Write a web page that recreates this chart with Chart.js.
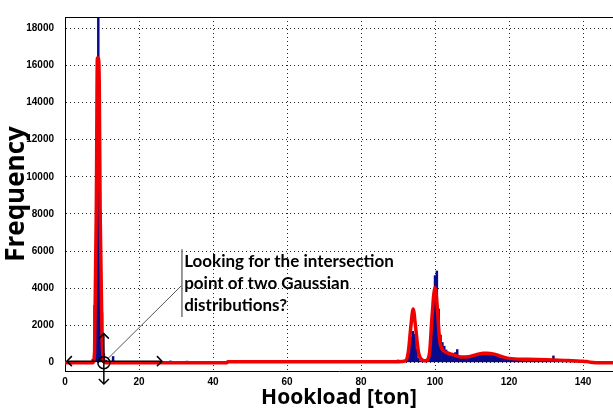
<!DOCTYPE html>
<html>
<head>
<meta charset="utf-8">
<script src="https://cdn.jsdelivr.net/npm/chart.js@4"></script>
<style>
  body { margin: 0; background: #fff; }
</style>
</head>
<body>
<canvas id="myChart" width="613" height="412"></canvas>
<script>
// histogram bins (bin centre in ton) and counts
const histX = [
  7.5, 8, 8.5, 9, 9.5, 10, 10.5, 11, 11.5, 12, 12.5, 13, 13.5, 14, 15, 16, 17, 18,
  28.5, 31, 33, 41, 70,
  88, 88.5, 89, 89.5, 90, 90.5, 91, 91.5, 92, 92.5, 93, 93.5, 94, 94.5, 95, 95.5,
  96, 96.5, 97, 97.5, 98, 98.5, 99, 99.5, 100, 100.5, 101, 101.5, 102, 102.5, 103, 103.5,
  104, 104.5, 105, 105.5, 106, 106.5, 107, 107.5, 108, 108.5, 109, 109.5, 110, 110.5,
  111, 111.5, 112, 112.5, 113, 113.5, 114, 114.5, 115, 115.5, 116, 116.5, 117, 117.5,
  118, 118.5, 119, 119.5, 120, 120.5, 121, 121.5, 122, 122.5, 123, 123.5, 124, 124.5,
  125, 125.5, 126, 126.5, 127, 127.5, 128, 128.5, 129, 129.5, 130, 130.5, 131, 131.5,
  132, 132.5, 133, 133.5, 134, 134.5, 135, 135.5, 136, 136.5, 137, 137.5, 138, 138.5,
  139, 139.5, 140
];
const histY = [
  200, 3100, 9500, 18600, 8200, 2700, 500, 150, 90, 70, 60, 350, 80, 60, 50, 40, 30, 30,
  110, 60, 100, 40, 80,
  40, 50, 60, 120, 160, 110, 70, 60, 90, 220, 650, 1400, 1700, 1550, 750, 260,
  110, 70, 90, 120, 220, 650, 1900, 3600, 4700, 4950, 2900, 1500, 1100, 900, 700, 560,
  480, 420, 500, 560, 720, 380, 320, 280, 330, 300, 340, 330, 390, 360,
  440, 420, 480, 440, 470, 500, 460, 490, 430, 460, 400, 360, 350, 290,
  260, 250, 210, 190, 190, 170, 180, 150, 170, 140, 160, 150, 160, 130,
  150, 140, 150, 120, 140, 130, 140, 120, 130, 110, 120, 110, 130, 150,
  380, 160, 110, 100, 90, 80, 80, 70, 70, 60, 60, 50, 40, 30,
  30, 20, 20
];

// fitted mixture curve
const fitX = [0, 7.5, 8, 8.5, 8.75, 9, 9.25, 9.5, 10, 10.5, 11, 43.8, 44, 90, 92, 92.8, 93.5,
  94.1, 94.7, 95.5, 96.5, 97.5, 98.5, 99.2, 100, 100.6, 101.2, 102, 103, 105, 107, 109,
  111, 113, 114, 116, 118, 120, 125, 132, 136, 140, 141, 142, 143.5, 148.5];
const fitY = [0, 0, 600, 9300, 16400, 16400, 15100, 8000, 1500, 100, 0, 0, 50, 50, 100, 600, 2000,
  2880, 2000, 600, 150, 100, 500, 2500, 4050, 3000, 1300, 700, 550, 420, 300, 320,
  420, 500, 510, 460, 330, 230, 180, 140, 120, 70, 60, 20, 0, 0];

const xTicks = [0, 20, 40, 60, 80, 100, 120, 140];
const yTicks = [0, 2000, 4000, 6000, 8000, 10000, 12000, 14000, 16000, 18000];

const noteLines = ["Looking for the intersection", "point of two Gaussian", "distributions?"];

const tickFont = { family: "'Liberation Sans Narrow', 'Liberation Sans', Arial", size: 10, weight: "bold" };

function arrowHead(ctx, x, y, dx, dy) {
  const s = 5;
  ctx.beginPath();
  ctx.moveTo(x - dx * s - dy * s, y - dy * s - dx * s);
  ctx.lineTo(x, y);
  ctx.lineTo(x - dx * s + dy * s, y - dy * s + dx * s);
  ctx.stroke();
}

const notePlugin = {
  id: "note",
  afterDraw(chart) {
    const { ctx, chartArea } = chart;
    const xs = chart.scales.x, ys = chart.scales.y;
    ctx.save();
    // top frame
    ctx.strokeStyle = "#000";
    ctx.lineWidth = 1;
    ctx.beginPath();
    ctx.moveTo(chartArea.left, chartArea.top + 0.5);
    ctx.lineTo(chartArea.right, chartArea.top + 0.5);
    ctx.stroke();

    const cx = xs.getPixelForValue(10.5), cy = ys.getPixelForValue(0);
    // leader line
    const tx = xs.getPixelForValue(31.6), ty = ys.getPixelForValue(4170);
    ctx.strokeStyle = "#555";
    ctx.lineWidth = 1;
    ctx.beginPath();
    ctx.moveTo(cx + 4, cy - 4);
    ctx.lineTo(tx, ty);
    ctx.stroke();
    // bar beside the note
    ctx.strokeStyle = "#777";
    ctx.lineWidth = 1.5;
    ctx.beginPath();
    ctx.moveTo(tx, ys.getPixelForValue(6100));
    ctx.lineTo(tx, ys.getPixelForValue(2450));
    ctx.stroke();

    // circle + arrows
    ctx.strokeStyle = "#000";
    ctx.lineWidth = 1.5;
    ctx.beginPath();
    ctx.arc(cx, cy, 6, 0, Math.PI * 2);
    ctx.stroke();
    const hy = ys.getPixelForValue(80);
    const hx0 = xs.getPixelForValue(0.5), hx1 = xs.getPixelForValue(26.2);
    ctx.beginPath();
    ctx.moveTo(hx0, hy); ctx.lineTo(hx1, hy);
    ctx.stroke();
    arrowHead(ctx, hx0, hy, -1, 0);
    arrowHead(ctx, hx1, hy, 1, 0);
    const vy0 = ys.getPixelForValue(1560), vy1 = ys.getPixelForValue(-1150);
    ctx.beginPath();
    ctx.moveTo(cx, vy0); ctx.lineTo(cx, vy1);
    ctx.stroke();
    arrowHead(ctx, cx, vy0, 0, -1);
    arrowHead(ctx, cx, vy1, 0, 1);

    // note text
    ctx.fillStyle = "#000";
    ctx.font = "bold 17px Lato, 'Open Sans', sans-serif";
    ctx.textBaseline = "alphabetic";
    const nx = xs.getPixelForValue(32.2);
    let by = ys.getPixelForValue(5160);
    noteLines.forEach((t) => {
      ctx.fillText(t, nx, by);
      by += 22;
    });
    ctx.restore();
  },
};

const ctx = document.getElementById("myChart");
new Chart(ctx, {
  type: "bar",
  data: {
    datasets: [
      {
        type: "line",
        data: fitX.map((x, i) => ({ x: x, y: fitY[i] })),
        borderColor: "rgb(240,0,0)",
        borderWidth: 3.5,
        pointRadius: 0,
        cubicInterpolationMode: "monotone",
        order: 0,
      },
      {
        type: "bar",
        data: histX.map((x, i) => ({ x: x, y: histY[i] })),
        backgroundColor: "rgb(10,10,140)",
        borderWidth: 0,
        barPercentage: 1.35,
        categoryPercentage: 1,
        order: 1,
      },
    ],
  },
  plugins: [notePlugin],
  options: {
    responsive: false,
    animation: false,
    devicePixelRatio: 1,
    layout: { padding: { top: 5, right: 0, left: 0, bottom: 0 } },
    plugins: { legend: { display: false }, tooltip: { enabled: false } },
    scales: {
      x: {
        type: "linear",
        offset: false,
        min: 0,
        max: 148.1,
        afterBuildTicks: (s) => { s.ticks = xTicks.map((v) => ({ value: v })); },
        afterFit: (s) => { s.height = 41; },
        ticks: { font: tickFont, color: "#000", padding: 5, maxRotation: 0, callback: (v) => String(v) },
        grid: { color: "rgba(0,0,0,0.85)", drawTicks: false, offset: false },
        border: { display: true, color: "#000", width: 1, dash: [1, 3] },
        title: {
          display: true, text: "Hookload [ton]", color: "#000",
          font: { family: "'Open Sans', sans-serif", size: 21, weight: "bold" },
          padding: { top: 0, bottom: 1 },
        },
      },
      y: {
        min: -450,
        max: 18600,
        afterBuildTicks: (s) => { s.ticks = yTicks.map((v) => ({ value: v })); },
        afterFit: (s) => { s.width = 65; },
        ticks: { font: tickFont, color: "#000", padding: 11, callback: (v) => String(v) },
        grid: { color: "rgba(0,0,0,0.85)", drawTicks: false },
        border: { display: true, color: "#000", width: 1, dash: [1, 3] },
        title: {
          display: true, text: "Frequency", color: "#000",
          font: { family: "'Open Sans', sans-serif", size: 26, weight: "bold" },
          padding: { top: 1, bottom: 0 },
        },
      },
    },
  },
});
</script>
</body>
</html>
